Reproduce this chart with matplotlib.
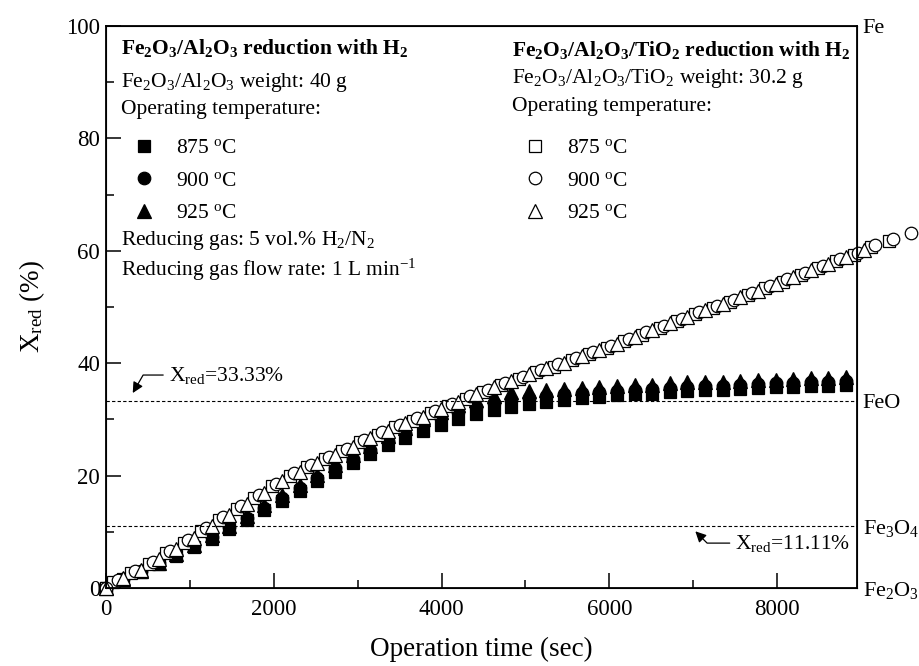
import numpy as np
import matplotlib
matplotlib.use("Agg")
import matplotlib.pyplot as plt

plt.rcParams['font.family'] = ['Liberation Serif', 'DejaVu Serif']
plt.rcParams['mathtext.fontset'] = 'custom'
plt.rcParams['mathtext.rm'] = 'Liberation Serif'
plt.rcParams['mathtext.it'] = 'Liberation Serif:italic'
plt.rcParams['mathtext.bf'] = 'Liberation Serif:bold'

# Fe2O3/Al2O3 (filled markers), sampled every 210 s
t_filled = np.arange(0, 8821, 210)
x875_f = [0.0, 1.6, 2.9, 4.3, 5.7, 7.3, 8.8, 10.5, 12.1, 13.9, 15.5, 17.3, 19.0, 20.7, 22.3,
          23.9, 25.4, 26.7, 28.0, 29.1, 30.1, 30.9, 31.6, 32.2, 32.7, 33.1, 33.5, 33.8, 34.0,
          34.3, 34.5, 34.6, 34.8, 35.0, 35.2, 35.3, 35.5, 35.6, 35.7, 35.8, 35.9, 36.0, 36.1]
x900_f = [0.0, 1.6, 3.0, 4.4, 5.9, 7.5, 9.1, 10.8, 12.5, 14.3, 16.0, 17.8, 19.6, 21.3, 23.0,
          24.6, 26.2, 27.6, 29.0, 30.2, 31.3, 32.2, 32.9, 33.5, 33.9, 34.2, 34.5, 34.7, 34.9,
          35.1, 35.3, 35.4, 35.6, 35.8, 35.9, 36.0, 36.2, 36.3, 36.4, 36.5, 36.6, 36.7, 36.8]
x925_f = [0.0, 1.7, 3.1, 4.5, 6.1, 7.7, 9.4, 11.1, 12.9, 14.7, 16.5, 18.3, 20.2, 21.9, 23.7,
          25.3, 27.0, 28.5, 30.0, 31.3, 32.5, 33.5, 34.2, 34.8, 35.1, 35.3, 35.5, 35.6, 35.8,
          35.9, 36.1, 36.2, 36.4, 36.6, 36.6, 36.7, 36.9, 37.0, 37.1, 37.2, 37.3, 37.4, 37.5]

# Fe2O3/Al2O3/TiO2 (open markers)
t875_o = [0] + list(range(90, 9331, 210))
x875_o = [0.0, 1.0, 2.6, 4.3, 6.2, 8.1, 10.1, 12.1, 14.1, 16.1, 18.1, 19.9, 21.5, 23.0, 24.4,
          25.9, 27.3, 28.6, 29.8, 31.1, 32.4, 33.7, 34.9, 36.1, 37.2, 38.4, 39.4, 40.5, 41.6,
          42.7, 43.9, 45.1, 46.3, 47.5, 48.7, 49.8, 50.9, 52.1, 53.3, 54.5, 55.7, 56.9, 58.1,
          59.3, 60.7, 61.8]
t900_o = [0] + list(range(140, 9591, 210))
x900_o = [0.0, 1.4, 3.0, 4.7, 6.6, 8.5, 10.6, 12.6, 14.6, 16.6, 18.6, 20.4, 21.9, 23.4, 24.8,
          26.3, 27.7, 29.0, 30.2, 31.5, 32.8, 34.1, 35.3, 36.5, 37.6, 38.8, 39.8, 40.9, 42.0,
          43.1, 44.3, 45.5, 46.7, 47.9, 49.1, 50.2, 51.3, 52.5, 53.7, 54.9, 56.1, 57.3, 58.5,
          59.7, 61.0, 62.1, 63.2]
t925_o = np.arange(0, 9031, 210)
x925_o = [0.0, 1.8, 3.3, 5.1, 7.0, 8.9, 11.0, 13.0, 15.0, 17.0, 19.0, 20.7, 22.2, 23.7, 25.1,
          26.7, 28.0, 29.3, 30.5, 31.9, 33.1, 34.5, 35.7, 36.8, 38.0, 39.1, 40.1, 41.3, 42.4,
          43.5, 44.7, 45.9, 47.1, 48.3, 49.5, 50.6, 51.7, 52.9, 54.1, 55.3, 56.5, 57.7, 58.9,
          60.1]

phase_levels = [0, 11.11, 33.33, 100]
phase_labels = ['Fe$_2$O$_3$', 'Fe$_3$O$_4$', 'FeO', 'Fe']
temps = ['875 $^{\\rm o}$C', '900 $^{\\rm o}$C', '925 $^{\\rm o}$C']

fig = plt.figure(figsize=(9.2, 6.66), dpi=100)
ax = fig.add_axes([0.115, 0.117, 0.8165, 0.844])

kw = dict(linestyle='none', clip_on=False, markeredgecolor='k', markeredgewidth=0.9)
h_sq_f, = ax.plot(t_filled, x875_f, 's', ms=8.5, color='k', **kw)
h_ci_f, = ax.plot(t_filled, x900_f, 'o', ms=9, color='k', **kw)
h_tr_f, = ax.plot(t_filled, x925_f, '^', ms=10, color='k', **kw)
h_sq_o, = ax.plot(t875_o, x875_o, 's', ms=8.5, markerfacecolor='white', **kw)
h_ci_o, = ax.plot(t900_o, x900_o, 'o', ms=9, markerfacecolor='white', **kw)
h_tr_o, = ax.plot(t925_o, x925_o, '^', ms=10, markerfacecolor='white', **kw)

ax.axhline(phase_levels[2], color='k', ls=(0, (3, 2)), lw=0.8)
ax.axhline(phase_levels[1], color='k', ls=(0, (3, 2)), lw=0.8)

ax.set_xlim(0, 8950)
ax.set_ylim(0, 100)
ax.set_xticks([0, 2000, 4000, 6000, 8000])
ax.set_xticks(np.arange(1000, 9000, 2000), minor=True)
ax.set_yticks([0, 20, 40, 60, 80, 100])
ax.set_yticks(np.arange(10, 100, 20), minor=True)
ax.tick_params(which='both', direction='in', top=False, right=False, labelsize=16.5, width=1.1)
ax.tick_params(axis='x', pad=8)
ax.tick_params(axis='y', pad=4)
ax.tick_params(which='major', length=11)
ax.tick_params(which='minor', length=6)
for s in ax.spines.values():
    s.set_linewidth(1.3)

ax.set_xlabel('Operation time (sec)', fontsize=19.5, labelpad=12)
ax.set_ylabel('X$_{\\rm red}$ (%)', fontsize=19.5, labelpad=14)

ax2 = ax.twinx()
ax2.set_ylim(0, 100)
ax2.set_yticks(phase_levels)
ax2.set_yticklabels(phase_labels)
ax2.tick_params(length=0, labelsize=16, pad=4)

ax.annotate('X$_{\\rm red}$=33.33%', xy=(321, 34.7), xytext=(750, 37.9),
            fontsize=15.5, va='center', ha='left',
            arrowprops=dict(arrowstyle='-|>', connectionstyle='angle,angleA=0,angleB=60,rad=0',
                            color='k', lw=0.9, shrinkA=2, shrinkB=0, mutation_scale=16))
ax.annotate('X$_{\\rm red}$=11.11%', xy=(7024, 10.1), xytext=(7500, 8.0),
            fontsize=15.5, va='center', ha='left',
            arrowprops=dict(arrowstyle='-|>', connectionstyle='angle,angleA=0,angleB=-45,rad=0',
                            color='k', lw=0.9, shrinkA=2, shrinkB=0, mutation_scale=16))

fs = 15.5
tr = ax.transAxes
ax.text(0.020, 0.961, 'Fe$_\\mathbf{2}$O$_\\mathbf{3}$/Al$_\\mathbf{2}$O$_\\mathbf{3}$ reduction with H$_\\mathbf{2}$',
        transform=tr, fontsize=fs, fontweight='bold', va='center')
ax.text(0.020, 0.900, 'Fe$_2$O$_3$/Al$_2$O$_3$ weight: 40 g', transform=tr, fontsize=fs, va='center')
ax.text(0.020, 0.851, 'Operating temperature:', transform=tr, fontsize=fs, va='center')
ax.text(0.020, 0.619, 'Reducing gas: 5 vol.% H$_2$/N$_2$', transform=tr, fontsize=fs, va='center')
ax.text(0.020, 0.566, 'Reducing gas flow rate: 1 L min$^{-1}$', transform=tr, fontsize=fs, va='center')

ax.text(0.541, 0.957, 'Fe$_\\mathbf{2}$O$_\\mathbf{3}$/Al$_\\mathbf{2}$O$_\\mathbf{3}$/TiO$_\\mathbf{2}$ reduction with H$_\\mathbf{2}$',
        transform=tr, fontsize=15.5, fontweight='bold', va='center')
ax.text(0.541, 0.907, 'Fe$_2$O$_3$/Al$_2$O$_3$/TiO$_2$ weight: 30.2 g', transform=tr, fontsize=fs, va='center')
ax.text(0.541, 0.856, 'Operating temperature:', transform=tr, fontsize=fs, va='center')

leg_kw = dict(loc='upper left', frameon=False, fontsize=fs, numpoints=1, handlelength=1.0,
              handletextpad=0.99, labelspacing=0.57, borderpad=0, borderaxespad=0)
leg1 = ax2.legend([h_sq_f, h_ci_f, h_tr_f], temps, bbox_to_anchor=(0.036, 0.800), **leg_kw)
ax2.add_artist(leg1)
ax2.legend([h_sq_o, h_ci_o, h_tr_o], temps, bbox_to_anchor=(0.5575, 0.800), **leg_kw)

fig.savefig('out.png', dpi=100)
